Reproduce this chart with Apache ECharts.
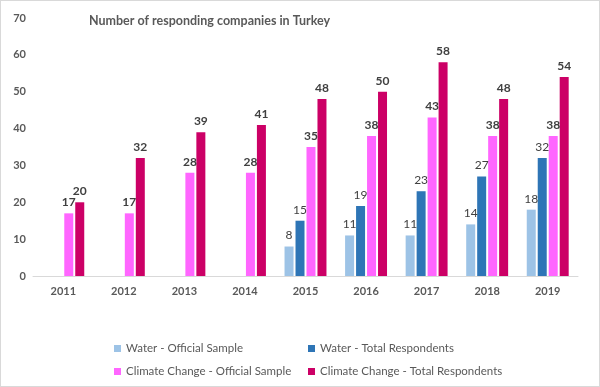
<!DOCTYPE html>
<html>
<head>
<meta charset="utf-8">
<script src="https://cdn.jsdelivr.net/npm/echarts@6/dist/echarts.min.js"></script>
<style>
html,body{margin:0;padding:0;background:#fff;}
#c{width:600px;height:387px;box-sizing:border-box;border:1px solid #d9d9d9;}
</style>
</head>
<body>
<div id="c"></div>
<script>
const categories = ['2011','2012','2013','2014','2015','2016','2017','2018','2019'];
const waterOfficial = [null,null,null,null,8,11,11,14,18];
const waterTotal = [null,null,null,null,15,19,23,27,32];
const climateOfficial = [17,17,28,28,35,38,43,38,38];
const climateTotal = [20,32,39,41,48,50,58,48,54];
const yTicks = {min:0, max:70, interval:10};

const font = 'Lato, "Open Sans", sans-serif';
const chart = echarts.init(document.getElementById('c'), null, {renderer:'canvas'});

function bar(name, data, color, bold){
  return {
    name, type:'bar', data,
    barWidth: 9,
    barGap: '22%',
    itemStyle:{color},
    label:{show:true, position:'top', distance:5, color:'#404040',
      fontFamily:font, fontSize:12, fontWeight: bold ? 'bold' : 'normal'}
  };
}

chart.setOption({
  animation:false,
  title:{text:'Number of responding companies in Turkey', left:88, top:13, padding:0,
    textStyle:{fontFamily:font, fontSize:12.5, fontWeight:'bold', color:'#595959'}},
  grid:{left:32, right:21, top:17, bottom:110, containLabel:false},
  legend:{
    left:113, top:341, width:400, padding:0,
    itemWidth:7, itemHeight:7, itemGap:10,
    icon:'rect',
    textStyle:{fontFamily:font, fontSize:11.5, color:'#595959', width:172, lineHeight:13},
    data:['Water - Official Sample','Water - Total Respondents','Climate Change - Official Sample','Climate Change - Total Respondents']
  },
  xAxis:{type:'category', data:categories,
    axisLine:{lineStyle:{color:'#d9d9d9'}}, axisTick:{show:false},
    axisLabel:{fontFamily:font, fontSize:11, fontWeight:'bold', color:'#595959', margin:10}},
  yAxis:{type:'value', min:yTicks.min, max:yTicks.max, interval:yTicks.interval,
    splitLine:{show:false}, axisLine:{show:false}, axisTick:{show:false},
    axisLabel:{fontFamily:font, fontSize:11, fontWeight:'bold', color:'#595959', margin:7}},
  series:[
    bar('Water - Official Sample', waterOfficial, '#9DC3E6', false),
    bar('Water - Total Respondents', waterTotal, '#2E75B6', false),
    bar('Climate Change - Official Sample', climateOfficial, '#FF66FF', true),
    bar('Climate Change - Total Respondents', climateTotal, '#CC0066', true)
  ]
});
</script>
</body>
</html>
